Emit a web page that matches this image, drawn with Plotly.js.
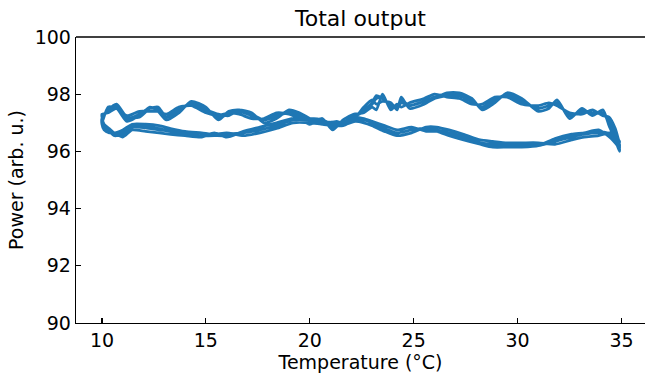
<!DOCTYPE html>
<html>
<head>
<meta charset="utf-8">
<script src="https://cdn.plot.ly/plotly-3.0.1.min.js"></script>
<style>html,body{margin:0;padding:0;background:#fff;}#chart{width:645px;height:379px;}</style>
</head>
<body>
<div id="chart"></div>
<script>
// Temperature sample points along the heating (up) and cooling (down) branches
var tempUp = [10.0, 10.3, 10.7, 11.2, 11.8, 12.3, 12.7, 13.1, 13.7, 14.3, 15.0, 15.6, 16.1, 16.6, 17.2, 17.8, 18.4, 19.0, 19.5, 20.0, 20.6, 21.1, 21.6, 22.1, 22.6, 23.0, 23.2, 23.5, 23.9, 24.2, 24.4, 24.8, 25.5, 26.0, 26.6, 27.2, 27.8, 28.3, 28.9, 29.5, 30.2, 31.0, 31.5, 31.9, 32.5, 33.1, 33.6, 34.1, 34.4, 34.7, 34.9];
var tempDown = [34.9, 34.5, 33.9, 33.2, 32.6, 31.8, 31.0, 30.2, 29.5, 28.8, 28.2, 27.4, 26.7, 26.1, 25.6, 24.9, 24.2, 23.6, 23.0, 22.6, 22.2, 21.7, 21.3, 20.6, 20.0, 19.2, 18.4, 17.6, 16.8, 16.0, 15.4, 14.8, 14.0, 13.3, 12.75, 12.1, 11.45, 11.0, 10.6, 10.35, 10.1, 10.0];

// Power readings for each cycle (arb. u.)
var powerUp1 = [97.2, 97.45, 97.6, 97.15, 97.3, 97.5, 97.5, 97.2, 97.45, 97.7, 97.45, 97.2, 97.3, 97.4, 97.25, 97.1, 97.25, 97.4, 97.25, 97.05, 97.05, 96.95, 97.0, 97.2, 97.45, 97.7, 97.95, 97.85, 97.6, 97.55, 97.8, 97.6, 97.75, 97.9, 98.0, 97.95, 97.75, 97.55, 97.8, 98.0, 97.75, 97.5, 97.6, 97.7, 97.25, 97.4, 97.35, 97.35, 97.0, 96.6, 96.1];
var powerDown1 = [96.2, 96.55, 96.65, 96.6, 96.5, 96.35, 96.2, 96.2, 96.2, 96.25, 96.3, 96.5, 96.65, 96.75, 96.8, 96.75, 96.65, 96.8, 97.0, 97.1, 97.15, 97.05, 97.0, 97.05, 97.1, 97.1, 96.9, 96.75, 96.65, 96.55, 96.55, 96.55, 96.6, 96.7, 96.75, 96.82, 96.85, 96.6, 96.55, 96.7, 96.85, 97.05];
var powerUp2 = [97.0, 97.55, 97.5, 97.25, 97.4, 97.4, 97.4, 97.3, 97.55, 97.6, 97.35, 97.25, 97.35, 97.3, 97.15, 97.15, 97.35, 97.3, 97.15, 96.95, 97.15, 96.75, 97.1, 97.3, 97.35, 97.55, 97.45, 98.0, 97.45, 97.65, 97.55, 97.7, 97.85, 98.0, 97.9, 97.85, 97.65, 97.65, 97.9, 97.9, 97.65, 97.6, 97.7, 97.6, 97.35, 97.3, 97.45, 97.25, 97.2, 96.8, 96.3];
var powerDown2 = [96.35, 96.65, 96.55, 96.5, 96.4, 96.25, 96.3, 96.3, 96.3, 96.35, 96.4, 96.6, 96.75, 96.85, 96.85, 96.65, 96.55, 96.7, 96.9, 97.0, 97.05, 96.95, 97.05, 96.95, 97.0, 97.0, 96.8, 96.65, 96.55, 96.65, 96.6, 96.65, 96.7, 96.8, 96.9, 96.95, 96.95, 96.75, 96.65, 96.8, 96.95, 97.2];
var powerUp3 = [97.3, 97.35, 97.5, 97.05, 97.25, 97.55, 97.4, 97.1, 97.35, 97.75, 97.55, 97.1, 97.4, 97.45, 97.35, 97.0, 97.15, 97.45, 97.35, 97.15, 96.95, 96.9, 96.9, 97.1, 97.55, 97.8, 97.65, 97.75, 97.7, 97.45, 97.9, 97.5, 97.65, 97.85, 98.05, 98.05, 97.85, 97.45, 97.7, 98.05, 97.85, 97.4, 97.5, 97.8, 97.15, 97.5, 97.25, 97.45, 96.9, 96.4, 96.0];
var powerDown3 = [96.1, 96.45, 96.75, 96.65, 96.6, 96.45, 96.2, 96.15, 96.15, 96.15, 96.25, 96.4, 96.55, 96.7, 96.7, 96.85, 96.75, 96.9, 97.05, 97.15, 97.2, 97.15, 96.9, 97.1, 97.15, 97.15, 97.0, 96.85, 96.7, 96.5, 96.65, 96.5, 96.55, 96.6, 96.65, 96.7, 96.75, 96.5, 96.65, 96.65, 96.75, 96.95];
var powerUp4 = [97.15, 97.45, 97.65, 97.2, 97.2, 97.5, 97.55, 97.2, 97.45, 97.65, 97.45, 97.3, 97.25, 97.45, 97.3, 97.1, 97.25, 97.35, 97.3, 97.05, 97.05, 96.85, 97.0, 97.2, 97.4, 97.65, 97.85, 97.9, 97.55, 97.55, 97.7, 97.6, 97.75, 97.85, 97.95, 97.95, 97.75, 97.55, 97.8, 97.95, 97.75, 97.5, 97.6, 97.7, 97.25, 97.4, 97.35, 97.3, 97.05, 96.55, 96.15];
var powerDown4 = [96.25, 96.6, 96.7, 96.65, 96.55, 96.35, 96.2, 96.25, 96.25, 96.25, 96.3, 96.5, 96.65, 96.7, 96.8, 96.75, 96.65, 96.8, 97.0, 97.1, 97.1, 97.05, 97.0, 97.05, 97.1, 97.1, 96.9, 96.75, 96.65, 96.6, 96.55, 96.55, 96.6, 96.7, 96.8, 96.85, 96.9, 96.65, 96.55, 96.7, 96.85, 97.15];

var xTicks = [10, 15, 20, 25, 30, 35];
var yTicks = [90, 92, 94, 96, 98, 100];

var cycles = [[powerUp1, powerDown1], [powerUp2, powerDown2], [powerUp3, powerDown3], [powerUp4, powerDown4]];
var xs = [], ys = [];
cycles.forEach(function (c) {
  xs = xs.concat(tempUp, tempDown);
  ys = ys.concat(c[0], c[1]);
});

var font = 'DejaVu Sans, sans-serif';
var trace = {
  x: xs, y: ys, type: 'scatter', mode: 'lines',
  line: {color: '#1f77b4', width: 2.8, shape: 'spline', smoothing: 0.6},
  hoverinfo: 'skip'
};

var axisCommon = {
  showgrid: false, zeroline: false, showline: true, linecolor: '#000', linewidth: 1.3,
  ticks: 'inside', ticklen: 5, tickwidth: 1.2, tickcolor: '#000',
  tickfont: {family: font, size: 19, color: '#000'}
};

var layout = {
  width: 645, height: 379,
  margin: {l: 76, r: 0, t: 37, b: 56},
  paper_bgcolor: '#fff', plot_bgcolor: '#fff',
  showlegend: false,
  title: {text: 'Total output', font: {family: font, size: 22, color: '#000'},
          xref: 'paper', x: 0.5, xanchor: 'center', yref: 'container', y: 0.952, yanchor: 'middle'},
  xaxis: Object.assign({}, axisCommon, {
    range: [8.75, 36.13], tickvals: xTicks, ticktext: xTicks.map(String),
    title: {text: 'Temperature (°C)', font: {family: font, size: 19, color: '#000'}, standoff: 4}
  }),
  yaxis: Object.assign({}, axisCommon, {
    range: [90, 100], tickvals: yTicks, ticktext: yTicks.map(String),
    title: {text: 'Power (arb. u.)', font: {family: font, size: 19, color: '#000'}, standoff: 6}
  }),
  shapes: [{type: 'line', xref: 'paper', yref: 'paper', x0: 0, x1: 1, y0: 1, y1: 1,
            line: {color: '#000', width: 1.3}}]
};

Plotly.newPlot('chart', [trace], layout, {displayModeBar: false, staticPlot: true});
</script>
</body>
</html>
